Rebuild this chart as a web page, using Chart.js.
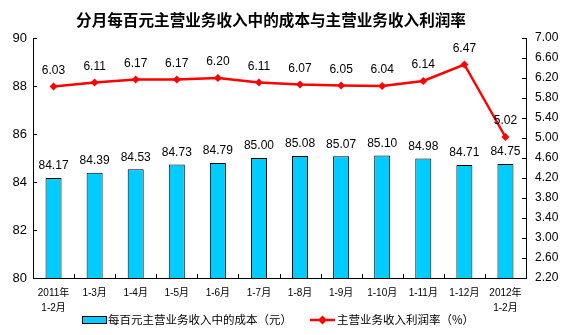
<!DOCTYPE html>
<html><head><meta charset="utf-8">
<script src="https://cdn.jsdelivr.net/npm/chart.js@4.4.1/dist/chart.umd.min.js"></script>
<style>html,body{margin:0;padding:0;background:#fff;}canvas{display:block;}</style>
</head><body>
<canvas id="c" width="568" height="335"></canvas>
<script>
const categories = [["2011年","1-2月"],"1-3月","1-4月","1-5月","1-6月","1-7月","1-8月","1-9月","1-10月","1-11月","1-12月",["2012年","1-2月"]];
const costPerHundred = [84.17,84.39,84.53,84.73,84.79,85.00,85.08,85.07,85.10,84.98,84.71,84.75];
const profitRate = [6.03,6.11,6.17,6.17,6.20,6.11,6.07,6.05,6.04,6.14,6.47,5.02];
const leftTicks = [80,82,84,86,88,90];
const rightTicks = [2.2,2.6,3.0,3.4,3.8,4.2,4.6,5.0,5.4,5.8,6.2,6.6,7.0];
const titleText = "分月每百元主营业务收入中的成本与主营业务收入利润率";
const barLegend = "每百元主营业务收入中的成本（元）";
const lineLegend = "主营业务收入利润率（%）";

const NUM_FONT = "Arial, 'Liberation Sans', sans-serif";
const CJK_FONT = "'Liberation Sans', 'Noto Sans CJK SC', sans-serif";
const BAR_COLOR = "#00CCFF";
const LINE_COLOR = "#FF0000";

const decor = {
  id: 'decor',
  afterDatasetsDraw(chart) {
    const ctx = chart.ctx;
    ctx.save();
    ctx.fillStyle = '#000';
    ctx.font = "12px " + NUM_FONT;
    ctx.textAlign = 'center';
    ctx.textBaseline = 'middle';
    chart.getDatasetMeta(1).data.forEach((el, i) => {
      ctx.fillText(costPerHundred[i].toFixed(2), el.x, el.y - 12);
    });
    chart.getDatasetMeta(0).data.forEach((el, i) => {
      ctx.fillText(profitRate[i].toFixed(2), el.x, el.y - 16);
    });
    ctx.restore();
  },
  afterDraw(chart) {
    const ctx = chart.ctx;
    const a = chart.chartArea;
    ctx.save();
    ctx.strokeStyle = '#000';
    ctx.lineWidth = 1;
    const y = chart.scales.y, y1 = chart.scales.y1;
    ctx.beginPath();
    leftTicks.forEach(v => { const p = Math.round(y.getPixelForValue(v)) + 0.5; ctx.moveTo(a.left, p); ctx.lineTo(a.left + 4, p); });
    rightTicks.forEach(v => { const p = Math.round(y1.getPixelForValue(v)) + 0.5; ctx.moveTo(a.right, p); ctx.lineTo(a.right - 4, p); });
    const n = categories.length;
    for (let i = 0; i <= n; i++) {
      const px = Math.round(a.left + (a.right - a.left) * i / n) + 0.5;
      ctx.moveTo(px, a.bottom); ctx.lineTo(px, a.bottom - 4);
    }
    ctx.stroke();
    // title
    ctx.fillStyle = '#000';
    ctx.font = "bold 15.6px 'Noto Sans CJK SC', sans-serif";
    ctx.textAlign = 'center';
    ctx.textBaseline = 'middle';
    ctx.fillText(titleText, 271, 20);
    // legend
    ctx.textAlign = 'left';
    ctx.font = "11.5px 'Noto Sans CJK SC', sans-serif";
    ctx.fillStyle = BAR_COLOR;
    ctx.fillRect(82, 316, 24, 7);
    ctx.strokeRect(82.5, 316.5, 24, 7);
    ctx.fillStyle = '#000';
    ctx.fillText(barLegend, 108, 320);
    ctx.strokeStyle = LINE_COLOR;
    ctx.lineWidth = 2.5;
    ctx.beginPath(); ctx.moveTo(310, 320); ctx.lineTo(335, 320); ctx.stroke();
    ctx.fillStyle = LINE_COLOR;
    ctx.beginPath(); ctx.moveTo(322.5, 315.5); ctx.lineTo(327, 320); ctx.lineTo(322.5, 324.5); ctx.lineTo(318, 320); ctx.closePath(); ctx.fill();
    ctx.fillStyle = '#000';
    ctx.fillText(lineLegend, 337, 320);
    ctx.restore();
  }
};

new Chart(document.getElementById('c'), {
  data: {
    labels: categories,
    datasets: [
      { type: 'line', label: lineLegend, data: profitRate, yAxisID: 'y1', order: 0,
        borderColor: LINE_COLOR, backgroundColor: LINE_COLOR, borderWidth: 2.5,
        pointStyle: 'rectRot', pointRadius: 4, pointBorderWidth: 0, tension: 0 },
      { type: 'bar', label: barLegend, data: costPerHundred, yAxisID: 'y', order: 1,
        backgroundColor: BAR_COLOR, borderColor: '#000', borderWidth: 1,
        barPercentage: 0.39, categoryPercentage: 1 }
    ]
  },
  options: {
    responsive: false, animation: false,
    layout: { padding: { top: 38, left: 0, right: 0, bottom: 0 } },
    plugins: { legend: { display: false }, title: { display: false }, tooltip: { enabled: false } },
    scales: {
      x: {
        offset: true,
        grid: { display: false, drawTicks: false },
        border: { display: true, color: '#000', width: 1 },
        ticks: { color: '#000', font: { size: 10, family: CJK_FONT, lineHeight: 1.5 }, padding: 8, maxRotation: 0, autoSkip: false },
        afterFit(s) { s.height = 57; }
      },
      y: {
        position: 'left', min: 80, max: 90,
        grid: { display: false, drawTicks: false },
        border: { display: true, color: '#000', width: 1 },
        afterBuildTicks(s) { s.ticks = leftTicks.map(v => ({ value: v })); },
        ticks: { color: '#000', font: { size: 13, family: NUM_FONT }, padding: 6, callback: v => String(v) },
        afterFit(s) { s.width = 33; }
      },
      y1: {
        position: 'right', min: 2.2, max: 7.0,
        grid: { display: false, drawTicks: false },
        border: { display: true, color: '#000', width: 1 },
        afterBuildTicks(s) { s.ticks = rightTicks.map(v => ({ value: v })); },
        ticks: { color: '#000', font: { size: 12, family: NUM_FONT }, padding: 9, callback: v => Number(v).toFixed(2) },
        afterFit(s) { s.width = 42; }
      }
    }
  },
  plugins: [decor]
});
</script>
</body></html>
